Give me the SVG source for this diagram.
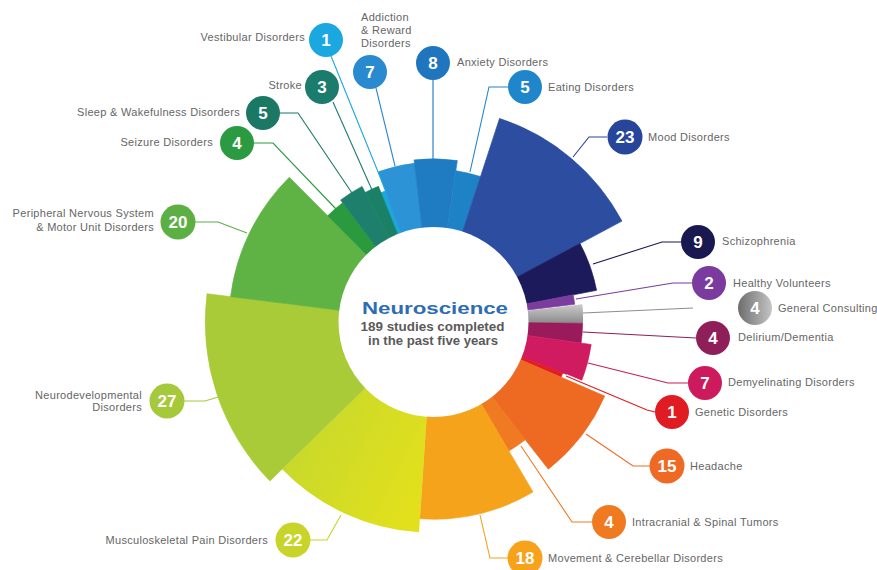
<svg xmlns="http://www.w3.org/2000/svg" width="877" height="570" viewBox="0 0 877 570">
<defs>
<linearGradient id="gGray" gradientUnits="userSpaceOnUse" x1="0" y1="303" x2="0" y2="322"><stop offset="0" stop-color="#cfcfcf"/><stop offset="1" stop-color="#8f8f8f"/></linearGradient>
<linearGradient id="gGrayBadge" x1="0" y1="0" x2="1" y2="0"><stop offset="0" stop-color="#6d6d6d"/><stop offset="1" stop-color="#c4c4c4"/></linearGradient>
<linearGradient id="gMusc" gradientUnits="userSpaceOnUse" gradientTransform="rotate(-183.81 433 322)" x1="300" y1="440" x2="420" y2="500"><stop offset="0" stop-color="#c9d92a"/><stop offset="1" stop-color="#e2e01c"/></linearGradient>
<style>
.sec{stroke-width:0.6;stroke-linejoin:round}
.num{font-family:"Liberation Sans",Arial,sans-serif;font-weight:700;font-size:17px;fill:#fff;text-anchor:middle}
.lbl{font-family:"Liberation Sans",Arial,sans-serif;font-size:11px;fill:#666;letter-spacing:0.3px}
.end{text-anchor:end}
.ld{fill:none;stroke-width:1.1}
</style>
</defs>
<rect width="877" height="570" fill="#fff"/>

<g id="vestibular">
<path class="sec" fill="#19a9e1" stroke="#19a9e1" transform="rotate(-21.905 433 322)" d="M433 322 L433 182.6 A139.4 139.4 0 0 1 437.63 182.68 Z"/>
<circle cx="326" cy="40" r="17" fill="#1ba8e0"/><text class="num" x="326" y="46">1</text>
<text class="lbl end" x="305" y="41">Vestibular Disorders</text>
</g>
<g id="addiction">
<path class="sec" fill="#2b93d6" stroke="#2b93d6" transform="rotate(-20 433 322)" d="M433 322 L433 162.2 A159.8 159.8 0 0 1 469.85 166.51 Z"/>
<circle cx="370" cy="72" r="17" fill="#2a8ad0"/><text class="num" x="370" y="78">7</text>
<text class="lbl" x="361" y="21">Addiction</text><text class="lbl" x="361" y="34">&amp; Reward</text><text class="lbl" x="361" y="47">Disorders</text>
</g>
<g id="anxiety">
<path class="sec" fill="#1f7cc2" stroke="#1f7cc2" transform="rotate(-6.667 433 322)" d="M433 322 L433 158.8 A163.2 163.2 0 0 1 475.9 164.54 Z"/>
<circle cx="433" cy="63" r="17" fill="#1f76bf"/><text class="num" x="433" y="69">8</text>
<text class="lbl" x="457" y="66">Anxiety Disorders</text>
</g>
<g id="eating">
<path class="sec" fill="#1e82c7" stroke="#1e82c7" transform="rotate(8.571 433 322)" d="M433 322 L433 169 A153 153 0 0 1 458.32 171.11 Z"/>
<circle cx="525" cy="87" r="17" fill="#1f86cc"/><text class="num" x="525" y="93">5</text>
<text class="lbl" x="548" y="91">Eating Disorders</text>
</g>
<g id="mood">
<path class="sec" fill="#2c4da0" stroke="#2c4da0" transform="rotate(18.095 433 322)" d="M433 322 L433 107.8 A214.2 214.2 0 0 1 581.29 167.42 Z"/>
<circle cx="625" cy="137" r="17.5" fill="#27469b"/><text class="num" x="625" y="143">23</text>
<text class="lbl" x="648" y="141">Mood Disorders</text>
</g>
<g id="schizophrenia">
<path class="sec" fill="#1c1a5a" stroke="#1c1a5a" transform="rotate(61.905 433 322)" d="M433 322 L433 155.4 A166.6 166.6 0 0 1 482.11 162.8 Z"/>
<circle cx="698" cy="242" r="17" fill="#1a1850"/><text class="num" x="698" y="248">9</text>
<text class="lbl" x="722" y="245">Schizophrenia</text>
</g>
<g id="healthy-volunteers">
<path class="sec" fill="#7c3c9e" stroke="#7c3c9e" transform="rotate(79.048 433 322)" d="M433 322 L433 179.2 A142.8 142.8 0 0 1 442.49 179.52 Z"/>
<circle cx="709" cy="283" r="17" fill="#7a3a9e"/><text class="num" x="709" y="289">2</text>
<text class="lbl" x="733" y="287">Healthy Volunteers</text>
</g>
<g id="general-consulting">
<path class="sec" fill="url(#gGray)" stroke="none" d="M433 322 L582.4 304.3 A150 150 0 0 1 583 323.5 Z"/>
<circle cx="755" cy="308" r="17" fill="url(#gGrayBadge)"/><text class="num" x="755" y="314">4</text>
<text class="lbl" x="778" y="312">General Consulting</text>
</g>
<g id="delirium-dementia">
<path class="sec" fill="#9a1b5c" stroke="#9a1b5c" transform="rotate(90.476 433 322)" d="M433 322 L433 172.4 A149.6 149.6 0 0 1 452.84 173.72 Z"/>
<circle cx="713" cy="338" r="17" fill="#8e1f58"/><text class="num" x="713" y="344">4</text>
<text class="lbl" x="738" y="341">Delirium/Dementia</text>
</g>
<g id="demyelinating">
<path class="sec" fill="#d11b60" stroke="#d11b60" transform="rotate(98.095 433 322)" d="M433 322 L433 162.2 A159.8 159.8 0 0 1 469.85 166.51 Z"/>
<circle cx="705" cy="383" r="17" fill="#cc1a5c"/><text class="num" x="705" y="389">7</text>
<text class="lbl" x="728" y="386">Demyelinating Disorders</text>
</g>
<g id="genetic">
<path class="sec" fill="#e11d26" stroke="#e11d26" transform="rotate(111.429 433 322)" d="M433 322 L433 182.6 A139.4 139.4 0 0 1 437.63 182.68 Z"/>
<circle cx="672" cy="412" r="17" fill="#e01b22"/><text class="num" x="672" y="418">1</text>
<text class="lbl" x="695" y="416">Genetic Disorders</text>
</g>
<g id="headache">
<path class="sec" fill="#ee6a22" stroke="#ee6a22" transform="rotate(113.333 433 322)" d="M433 322 L433 135 A187 187 0 0 1 522.45 157.78 Z"/>
<circle cx="667" cy="466" r="17.5" fill="#ee6a24"/><text class="num" x="667" y="472">15</text>
<text class="lbl" x="690" y="470">Headache</text>
</g>
<g id="intracranial">
<path class="sec" fill="#f07a21" stroke="#f07a21" transform="rotate(141.905 433 322)" d="M433 322 L433 172.4 A149.6 149.6 0 0 1 452.84 173.72 Z"/>
<circle cx="609" cy="522" r="17" fill="#f07a20"/><text class="num" x="609" y="528">4</text>
<text class="lbl" x="632" y="526">Intracranial &amp; Spinal Tumors</text>
</g>
<g id="movement">
<path class="sec" fill="#f6a31c" stroke="#f6a31c" transform="rotate(149.524 433 322)" d="M433 322 L433 124.8 A197.2 197.2 0 0 1 544.09 159.07 Z"/>
<circle cx="525" cy="558" r="17.5" fill="#f7a21b"/><text class="num" x="525" y="564">18</text>
<text class="lbl" x="548" y="562">Movement &amp; Cerebellar Disorders</text>
</g>
<g id="musculoskeletal">
<path class="sec" fill="url(#gMusc)" stroke="none" transform="rotate(183.81 433 322)" d="M433 322 L433 111.2 A210.8 210.8 0 0 1 573.8 165.12 Z"/>
<circle cx="293" cy="540" r="17.5" fill="#c8d42a"/><text class="num" x="293" y="546">22</text>
<text class="lbl end" x="268" y="544">Musculoskeletal Pain Disorders</text>
</g>
<g id="neurodevelopmental">
<path class="sec" fill="#a9cb38" stroke="#a9cb38" transform="rotate(225.714 433 322)" d="M433 322 L433 94.2 A227.8 227.8 0 0 1 611.1 179.97 Z"/>
<circle cx="167" cy="401" r="17.5" fill="#a6c93b"/><text class="num" x="167" y="407">27</text>
<text class="lbl end" x="142" y="399">Neurodevelopmental</text><text class="lbl end" x="142" y="411">Disorders</text>
</g>
<g id="peripheral">
<path class="sec" fill="#5fb244" stroke="#5fb244" transform="rotate(277.143 433 322)" d="M433 322 L433 118 A204 204 0 0 1 558.85 161.44 Z"/>
<circle cx="178" cy="222" r="17.5" fill="#5cb043"/><text class="num" x="178" y="228">20</text>
<text class="lbl end" x="154" y="217">Peripheral Nervous System</text><text class="lbl end" x="154" y="231">&amp; Motor Unit Disorders</text>
</g>
<g id="seizure">
<path class="sec" fill="#2b9a3f" stroke="#2b9a3f" transform="rotate(315.238 433 322)" d="M433 322 L433 172.4 A149.6 149.6 0 0 1 452.84 173.72 Z"/>
<circle cx="237" cy="143" r="17" fill="#2b9a40"/><text class="num" x="237" y="149">4</text>
<text class="lbl end" x="213" y="146">Seizure Disorders</text>
</g>
<g id="sleep">
<path class="sec" fill="#1e7f6c" stroke="#1e7f6c" transform="rotate(322.857 433 322)" d="M433 322 L433 169 A153 153 0 0 1 458.32 171.11 Z"/>
<circle cx="263" cy="113" r="17" fill="#1b7865"/><text class="num" x="263" y="119">5</text>
<text class="lbl end" x="240" y="116">Sleep &amp; Wakefulness Disorders</text>
</g>
<g id="stroke">
<path class="sec" fill="#1b8166" stroke="#1b8166" transform="rotate(332.381 433 322)" d="M433 322 L433 175.8 A146.2 146.2 0 0 1 447.56 176.52 Z"/>
<circle cx="322" cy="87" r="17" fill="#1b7b6d"/><text class="num" x="322" y="93">3</text>
<text class="lbl end" x="302" y="89">Stroke</text>
</g>

<g id="center">
<circle cx="433.5" cy="322" r="95" fill="#fff"/>
<text x="435" y="314" font-family="Liberation Sans, Arial, sans-serif" font-weight="700" font-size="17" fill="#2e6db4" text-anchor="middle" textLength="146" lengthAdjust="spacingAndGlyphs">Neuroscience</text>
<text x="432.5" y="331" font-family="Liberation Sans, Arial, sans-serif" font-weight="700" font-size="12.5" fill="#5a5a5a" text-anchor="middle" textLength="144" lengthAdjust="spacingAndGlyphs">189 studies completed</text>
<text x="433" y="345" font-family="Liberation Sans, Arial, sans-serif" font-weight="700" font-size="12.5" fill="#5a5a5a" text-anchor="middle" textLength="130" lengthAdjust="spacingAndGlyphs">in the past five years</text>
</g>

<g id="connectors">
<polyline class="ld" stroke="#1ba8e0" points="331,56 385,189"/>
<polyline class="ld" stroke="#2a8ad0" points="376,88 395,166"/>
<polyline class="ld" stroke="#1f76bf" points="433,80 433,159"/>
<polyline class="ld" stroke="#1f86cc" points="508,87 489,87 470,172"/>
<polyline class="ld" stroke="#27469b" points="607,137 589,137 573,157"/>
<polyline class="ld" stroke="#1a1850" points="681,242 662,242 593,264"/>
<polyline class="ld" stroke="#7a3a9e" points="692,283 673,283 576,299"/>
<polyline class="ld" stroke="#8e8e8e" points="693,308 583,313"/>
<polyline class="ld" stroke="#8e1f58" points="696,338 583,332"/>
<polyline class="ld" stroke="#cc1a5c" points="688,383 668,383 588,363"/>
<polyline fill="none" stroke="#fff" stroke-width="4" points="592,387 566,376"/>
<polyline class="ld" stroke="#e01b22" points="655,412 647,410 566,376"/>
<polyline class="ld" stroke="#ee6a24" points="650,466 633,466 586,434"/>
<polyline class="ld" stroke="#f07a20" points="592,522 572,522 521,446"/>
<polyline class="ld" stroke="#f7a21b" points="508,558 490,558 480,515"/>
<polyline class="ld" stroke="#c8d42a" points="310,540 327,540 341,515"/>
<polyline class="ld" stroke="#a6c93b" points="184,401 205,401 218,397"/>
<polyline class="ld" stroke="#5cb043" points="195,222 218,222 247,233"/>
<polyline class="ld" stroke="#2b9a40" points="254,143 273,143 336,209"/>
<polyline class="ld" stroke="#1b7865" points="280,113 298,113 352,193"/>
<polyline class="ld" stroke="#1b7b6d" points="333,102 372,190"/>
</g>
</svg>
